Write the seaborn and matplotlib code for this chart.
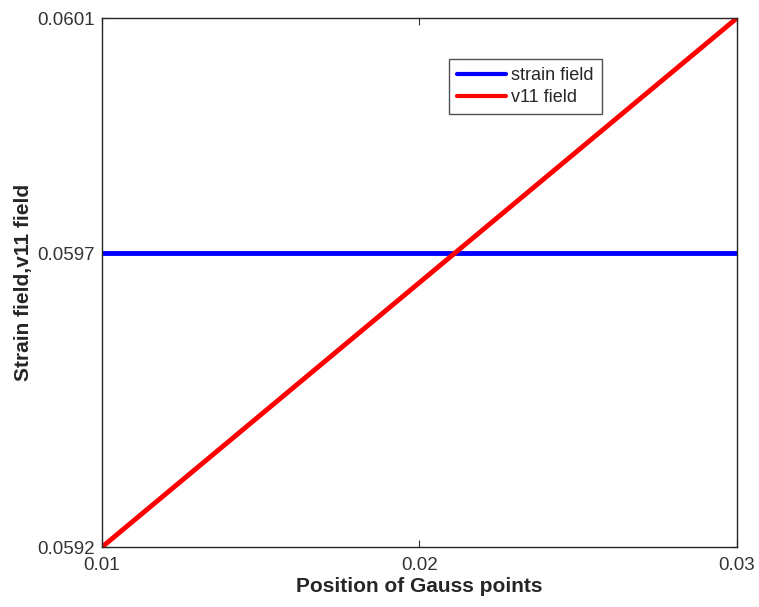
import matplotlib
matplotlib.use("Agg")
import matplotlib.pyplot as plt
import seaborn as sns
import pandas as pd

x_pos = [0.01, 0.03]
strain_field = [0.0597, 0.0597]
v11_field = [0.0592, 0.0601]
xticks = [0.01, 0.02, 0.03]
yticks = [0.0592, 0.0597, 0.0601]

sns.set_style("white")
plt.rcParams['font.family'] = ['Liberation Sans', 'DejaVu Sans']

df = pd.DataFrame({
    "x": x_pos + x_pos,
    "y": strain_field + v11_field,
    "series": ["strain field"] * len(x_pos) + ["v11 field"] * len(x_pos),
})

fig = plt.figure(figsize=(7.59, 6.07), dpi=100)
ax = fig.add_axes([0.1344, 0.0988, 0.8366, 0.8715])
sns.lineplot(data=df, x="x", y="y", hue="series",
             palette={"strain field": "#0000ff", "v11 field": "#ff0000"},
             linewidth=3.5, ax=ax)

ax.set_xlim(0.01, 0.03)
ax.set_ylim(0.0592, 0.0601)
ax.set_xticks(xticks)
ax.set_xticklabels(["0.01", "0.02", "0.03"])
ax.set_yticks(yticks)
ax.set_yticklabels(["0.0592", "0.0597", "0.0601"])
ax.tick_params(direction="in", length=5, width=0.8, labelsize=13.5, colors="#333333",
               top=True, right=True, bottom=True, left=True)
ax.tick_params(axis="x", pad=7)
ax.tick_params(axis="y", pad=5)
for s in ax.spines.values():
    s.set_visible(True)
    s.set_color("#262626")
    s.set_linewidth(1.0)

ax.set_xlabel("Position of Gauss points", fontsize=15, fontweight="bold", labelpad=2)
ax.set_ylabel("Strain field,v11 field", fontsize=15, fontweight="bold", labelpad=3)

leg = ax.legend(loc="upper left", bbox_to_anchor=(0.546, 0.922), borderaxespad=0,
                fontsize=13, frameon=True, fancybox=False, handlelength=2.7,
                handletextpad=0.3, borderpad=0.45, labelspacing=0.25)
leg.get_frame().set_edgecolor("#262626")
leg.get_frame().set_linewidth(1.0)
for line in leg.get_lines():
    line.set_linewidth(3.0)
leg.set_title(None)

fig.savefig("out.png", dpi=100)
